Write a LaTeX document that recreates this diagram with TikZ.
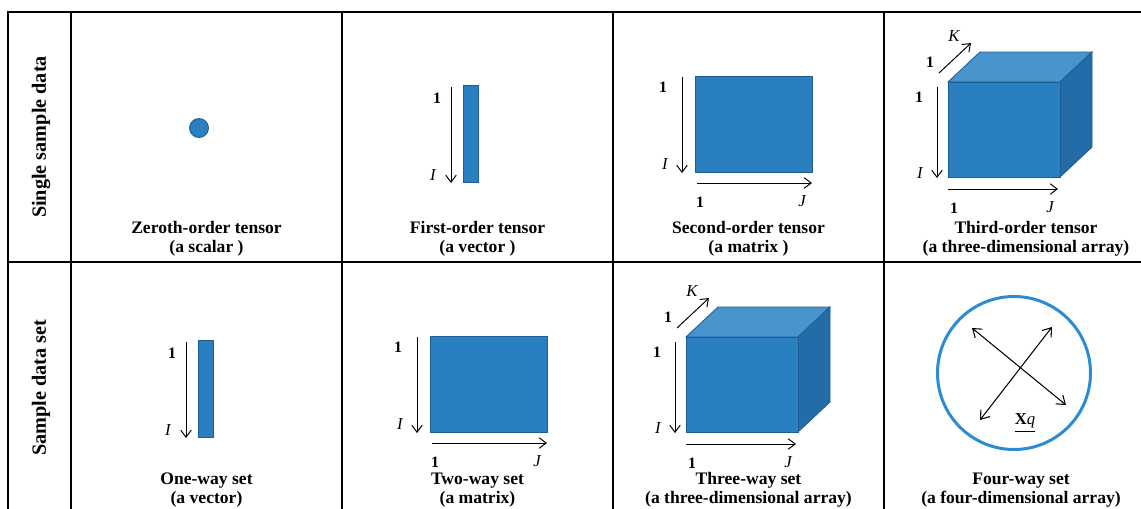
\documentclass[tikz,border=0pt]{standalone}
\usepackage{fontspec}
\setmainfont{Liberation Serif}
\definecolor{tnsBlue}{HTML}{2A7FC1}
\definecolor{tnsBlueTop}{HTML}{4A94CE}
\definecolor{tnsBlueSide}{HTML}{226CA8}
\definecolor{tnsBlueEdge}{HTML}{1E5E96}
\definecolor{tnsRing}{HTML}{2B8CD2}
\usetikzlibrary{
	arrows.meta
}
\tikzset{
	rejilla/.style={
		line width=1.1pt,
		black
	},
	eje/.style={
		-{Straight Barb[length=4pt,width=6pt]},
		line width=0.55pt
	},
	ejeDoble/.style={
		{Straight Barb[length=4.5pt,width=6.5pt]}-{Straight Barb[length=4.5pt,width=6.5pt]},
		line width=0.6pt
	},
	bloque/.style={
		fill=tnsBlue,
		draw=tnsBlueEdge,
		line width=0.5pt
	},
	titulo/.style={
		align=center,
		inner sep=0pt,
		font=\fontsize{10}{10.8}\selectfont\bfseries
	},
	fila/.style={
		rotate=90,
		inner sep=0pt,
		font=\fontsize{11.5}{12}\selectfont\bfseries
	},
	indice/.style={
		inner sep=0pt,
		font=\fontsize{9}{10}\selectfont\bfseries
	},
	letra/.style={
		inner sep=0pt,
		font=\fontsize{9.5}{10}\selectfont\itshape
	},
	punto/.style={
		circle,
		fill=tnsBlue,
		draw=tnsBlueEdge,
		line width=0.5pt,
		minimum size=3.8mm,
		inner sep=0pt
	},
	anillo/.style={
		circle,
		draw=tnsRing,
		line width=1.7pt,
		minimum size=30.6mm,
		inner sep=0pt
	},
	pics/vectorT/.style={code={
		\filldraw[bloque] (0,0) rectangle (15,97);
		\draw[eje] (-12,2) -- (-12,98);
		\node[indice] (-uno) at (-26,13) {1};
		\node[letra] (-i) at (-30,90) {I};
	}},
	pics/matrizT/.style={code={
		\filldraw[bloque] (0,0) rectangle (117,96);
		\draw[eje] (-13,1) -- (-13,97);
		\draw[eje] (2,107) -- (117,107);
		\node[indice] (-unoI) at (-32,11) {1};
		\node[letra] (-i) at (-30,88) {I};
		\node[indice] (-unoJ) at (5,126) {1};
		\node[letra] (-j) at (107,125) {J};
	}},
	pics/cuboT/.style={code={
		\filldraw[bloque, fill=tnsBlueTop] (0,0) -- (32,-30) -- (144,-30) -- (112,0) -- cycle;
		\filldraw[bloque, fill=tnsBlueSide] (112,0) -- (144,-30) -- (144,65) -- (112,95) -- cycle;
		\filldraw[bloque] (0,0) rectangle (112,95);
		\draw[eje] (-11,5) -- (-11,96);
		\draw[eje] (0,107) -- (110,107);
		\draw[eje] (-9,-9) -- (23,-39);
		\node[indice] (-unoI) at (-29,15) {1};
		\node[letra] (-i) at (-28,91) {I};
		\node[indice] (-unoJ) at (6,126) {1};
		\node[letra] (-j) at (102,125) {J};
		\node[indice] (-unoK) at (-18,-20) {1};
		\node[letra] (-k) at (6,-46) {K};
	}}
}

\begin{document}
\begin{tikzpicture}[x=0.2mm, y=-0.2mm]
		\useasboundingbox (0,0) rectangle (1141,508);
		\fill[white] (0,0) rectangle (1141,508);
		\draw[rejilla] (8,512) -- (8,12) -- (1145,12);
		\draw[rejilla] (8,262) -- (1145,262);
		\foreach \x in {71,342,613,884}
			\draw[rejilla] (\x,12) -- (\x,512);
		\node[fila] (filaUno) at (41,137) {Single sample data};
		\node[fila] (filaDos) at (41,388) {Sample data set};
		% single sample data
		\node[punto] (escalar) at (199,128) {};
		\pic (vecUno) at (463,85) {vectorT};
		\pic (matUno) at (695,76) {matrizT};
		\pic (cuboUno) at (948,82) {cuboT};
		\node[titulo] (tEscalar) at (206.5,238.5) {Zeroth-order tensor\\(a scalar )};
		\node[titulo] (tVector) at (477.5,238.5) {First-order tensor\\(a vector )};
		\node[titulo] (tMatriz) at (748.5,238.5) {Second-order tensor\\(a matrix )};
		\node[titulo] (tArreglo) at (1026,238.5) {Third-order tensor\\(a three-dimensional array)};
		% sample data set
		\pic (vecDos) at (198,340) {vectorT};
		\pic (matDos) at (430,336) {matrizT};
		\pic (cuboDos) at (686,337) {cuboT};
		\node[anillo] (anillo) at (1014,373) {};
		\coordinate (cruzA) at (980,420);
		\coordinate (cruzB) at (1052,327);
		\coordinate (cruzC) at (972,328);
		\coordinate (cruzD) at (1066,405);
		\draw[ejeDoble] (cruzA) -- (cruzB);
		\draw[ejeDoble] (cruzC) -- (cruzD);
		\node[inner sep=0pt, font=\fontsize{9.5}{10}\selectfont] (xq) at (1025,423) {\underline{\textbf{X}\textit{q}}};
		\node[titulo] (tUnaVia) at (206.5,490) {One-way set\\(a vector)};
		\node[titulo] (tDosVias) at (477.5,490) {Two-way set\\(a matrix)};
		\node[titulo] (tTresVias) at (748.5,490) {Three-way set\\(a three-dimensional array)};
		\node[titulo] (tCuatroVias) at (1021,490) {Four-way set\\(a four-dimensional array)};
	\end{tikzpicture}
\end{document}
